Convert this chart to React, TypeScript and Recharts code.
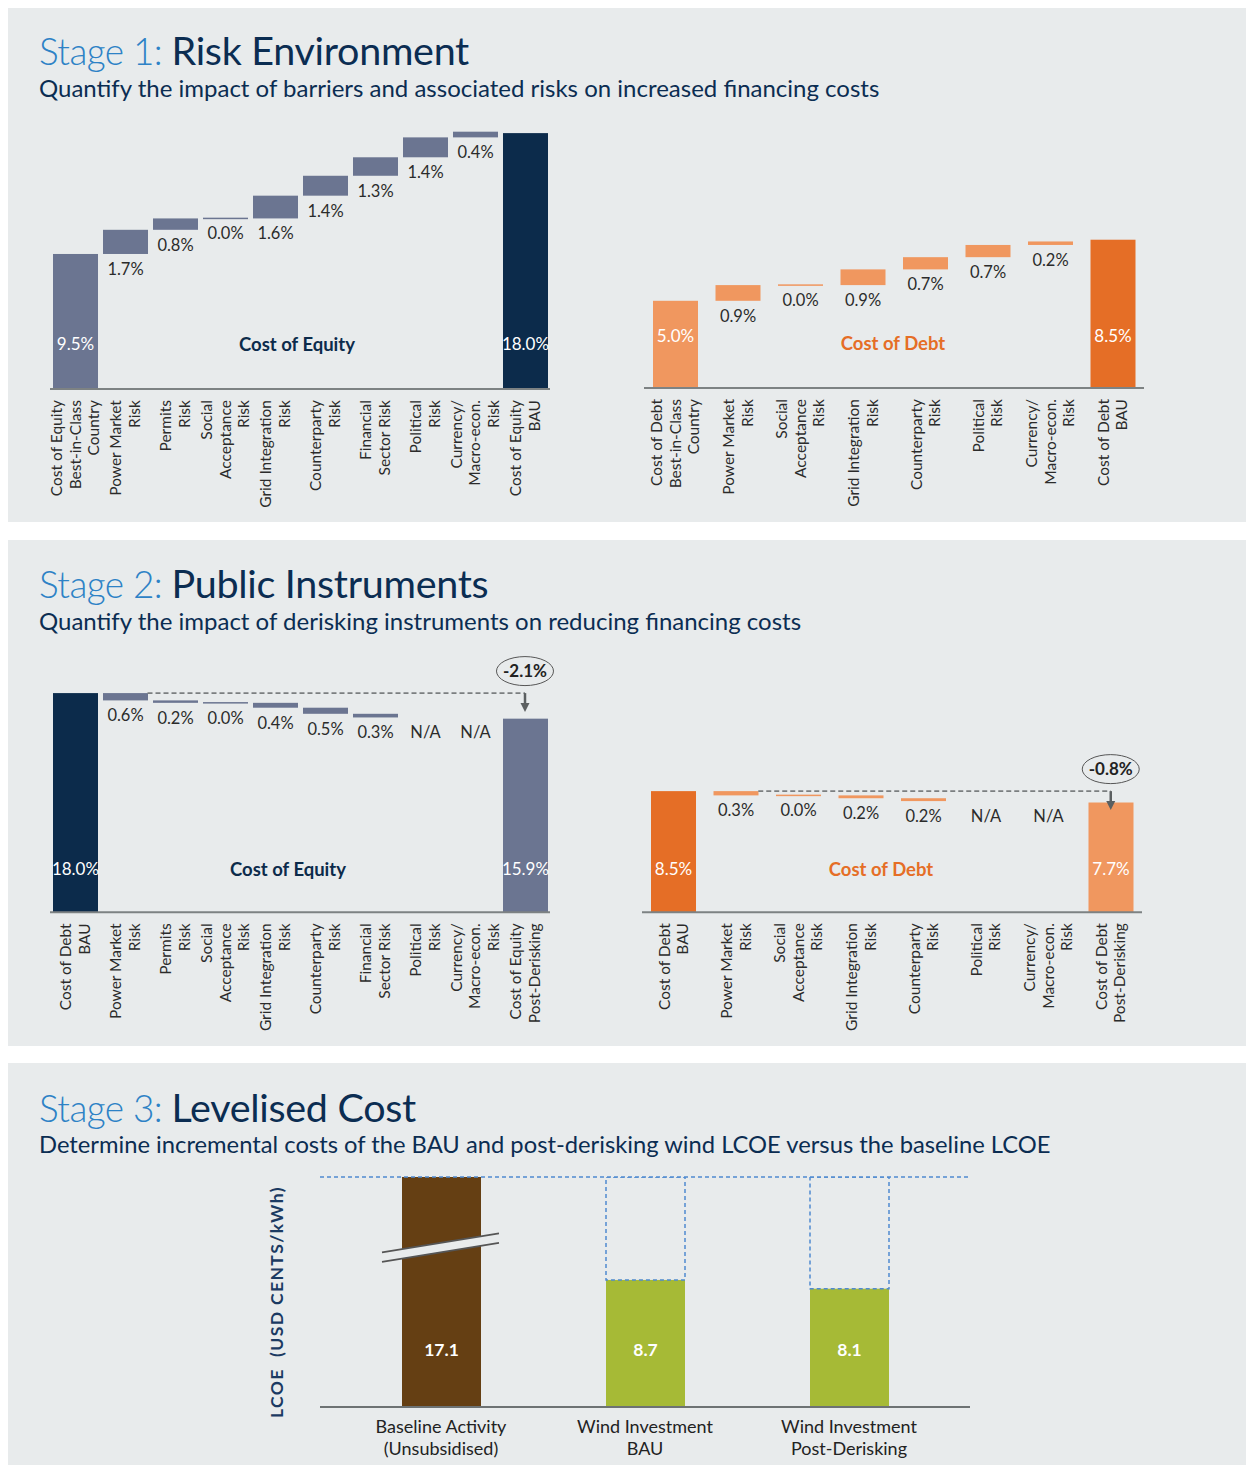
import React from "react";
import { BarChart, Bar, XAxis, YAxis, ReferenceLine } from "recharts";

const FONT = "Lato, 'Open Sans', sans-serif";
const OX = 0;
const OY = 0;

const SLATE = "#6b7591";
const NAVY = "#0c2b4b";
const ORANGE_L = "#f0975f";
const ORANGE_D = "#e56e26";
const BROWN = "#653f13";
const GREEN = "#a6ba36";
const PANEL = "#e8ebec";
const TEXT = "#2b2b2b";
const DASH_BLUE = "#4f8ad0";

// Stage 1: risk environment
const eq1Cats = [
  "Cost of Equity\nBest-in-Class\nCountry",
  "Power Market\nRisk",
  "Permits\nRisk",
  "Social\nAcceptance\nRisk",
  "Grid Integration\nRisk",
  "Counterparty\nRisk",
  "Financial\nSector Risk",
  "Political\nRisk",
  "Currency/\nMacro-econ.\nRisk",
  "Cost of Equity\nBAU",
];
const eq1Values = [9.5, 1.7, 0.8, 0.0, 1.6, 1.4, 1.3, 1.4, 0.4, 18.0];

const debt1Cats = [
  "Cost of Debt\nBest-in-Class\nCountry",
  "Power Market\nRisk",
  "Social\nAcceptance\nRisk",
  "Grid Integration\nRisk",
  "Counterparty\nRisk",
  "Political\nRisk",
  "Currency/\nMacro-econ.\nRisk",
  "Cost of Debt\nBAU",
];
const debt1Values = [5.0, 0.9, 0.0, 0.9, 0.7, 0.7, 0.2, 8.5];

// Stage 2: public instruments
const eq2Cats = [
  "Cost of Debt\nBAU",
  "Power Market\nRisk",
  "Permits\nRisk",
  "Social\nAcceptance\nRisk",
  "Grid Integration\nRisk",
  "Counterparty\nRisk",
  "Financial\nSector Risk",
  "Political\nRisk",
  "Currency/\nMacro-econ.\nRisk",
  "Cost of Equity\nPost-Derisking",
];
const eq2Values = [18.0, 0.6, 0.2, 0.0, 0.4, 0.5, 0.3, null, null, 15.9];

const debt2Cats = [
  "Cost of Debt\nBAU",
  "Power Market\nRisk",
  "Social\nAcceptance\nRisk",
  "Grid Integration\nRisk",
  "Counterparty\nRisk",
  "Political\nRisk",
  "Currency/\nMacro-econ.\nRisk",
  "Cost of Debt\nPost-Derisking",
];
const debt2Values = [8.5, 0.3, 0.0, 0.2, 0.2, null, null, 7.7];

// Stage 3: levelised cost
const lcoeCats = [
  "Baseline Activity\n(Unsubsidised)",
  "Wind Investment\nBAU",
  "Wind Investment\nPost-Derisking",
];
const lcoeValues = [17.1, 8.7, 8.1];
const lcoeColors = [BROWN, GREEN, GREEN];
const lcoeBreakAt = 11.85;

type Row = {
  name: string;
  base: number;
  val: number | null;
  total: boolean;
  na: boolean;
  color: string;
};

function buildWaterfall(
  cats: string[],
  values: (number | null)[],
  dir: number,
  colors: string[]
): Row[] {
  let run = 0;
  const last = cats.length - 1;
  return cats.map((name, i) => {
    const v = values[i];
    if (i === 0 || i === last) {
      if (i === 0) run = v as number;
      return { name, base: 0, val: v, total: true, na: false, color: i === 0 ? colors[0] : colors[2] };
    }
    if (v == null) return { name, base: run, val: null, total: false, na: true, color: colors[1] };
    if (dir > 0) {
      const b = run;
      run += v;
      return { name, base: b, val: v, total: false, na: false, color: colors[1] };
    }
    run -= v;
    return { name, base: run, val: v, total: false, na: false, color: colors[1] };
  });
}

function RotTick(props: any) {
  const { x, y, payload } = props;
  const lines = String(payload.value).split("\n");
  const n = lines.length;
  const gap = 18.5;
  return (
    <g transform={`translate(${x},${y + 11})`}>
      <text transform="rotate(-90)" textAnchor="end" fontFamily={FONT} fontSize={15.5} fill={TEXT}>
        {lines.map((l, i) => (
          <tspan key={i} x={0} y={(i - (n - 1) / 2) * gap + 5.5}>
            {l}
          </tspan>
        ))}
      </text>
    </g>
  );
}

const baseShape = (p: any) => {
  const d = p.payload as Row;
  if (d.total) return <g />;
  const txt = d.na ? "N/A" : `${(d.val as number).toFixed(1)}%`;
  return (
    <text
      x={p.x + p.width / 2}
      y={p.y + 15 + 6}
      textAnchor="middle"
      fontFamily={FONT}
      fontSize={16.5}
      fill={TEXT}
    >
      {txt}
    </text>
  );
};

const valShape = (offset: number) => (p: any) => {
  const d = p.payload as Row;
  if (d.na || d.val == null) return <g />;
  const h = p.height < 1.5 ? 1.5 : p.height;
  const y = p.height < 1.5 ? p.y - 0.75 : p.y;
  return (
    <g>
      <rect x={p.x} y={y} width={p.width} height={h} fill={d.color} />
      {d.total && (
        <text
          x={p.x + p.width / 2}
          y={p.y + p.height - offset + 6}
          textAnchor="middle"
          fontFamily={FONT}
          fontSize={17}
          fill="#ffffff"
        >
          {`${d.val.toFixed(1)}%`}
        </text>
      )}
    </g>
  );
};

const annotShape = (label: string) => (p: any) => {
  const { x1, y1, x2 } = p;
  const half = 22.5;
  return (
    <g>
      <line x1={x1 + half} y1={y1} x2={x2} y2={y1} stroke="#7b7f80" strokeWidth={1.8} strokeDasharray="5 3" />
      <line x1={x2} y1={y1} x2={x2} y2={y1 + 11} stroke="#5b5f60" strokeWidth={2.5} />
      <polygon points={`${x2 - 4.5},${y1 + 10} ${x2 + 4.5},${y1 + 10} ${x2},${y1 + 19}`} fill="#5b5f60" />
      <ellipse cx={x2} cy={y1 - 22} rx={28.5} ry={14.5} fill="none" stroke="#555" strokeWidth={1} />
      <text x={x2} y={y1 - 22 + 6} textAnchor="middle" fontFamily={FONT} fontWeight={700} fontSize={17} fill="#222">
        {label}
      </text>
    </g>
  );
};

type WFProps = {
  cats: string[];
  values: (number | null)[];
  dir: number;
  colors: string[];
  plotLeft: number;
  plotW: number;
  baseline: number;
  ppu: number;
  domainMax: number;
  title: string;
  titleColor: string;
  titleX: number;
  titleY: number;
  totalOffset: number;
  change?: string;
};

function Waterfall(p: WFProps) {
  const rows = buildWaterfall(p.cats, p.values, p.dir, p.colors);
  const plotH = p.domainMax * p.ppu;
  const plotTop = p.baseline - plotH;
  const mTop = 60;
  const mSide = 20;
  const axisH = 125;
  const width = p.plotW + 2 * mSide;
  const height = mTop + plotH + axisH;
  const start = p.values[0] as number;
  return (
    <>
      <div style={{ position: "absolute", left: p.plotLeft - mSide - OX, top: plotTop - mTop - OY }}>
        <BarChart
          width={width}
          height={height}
          data={rows}
          margin={{ top: mTop, right: mSide, bottom: 0, left: mSide }}
          barSize={45}
        >
          <XAxis
            dataKey="name"
            interval={0}
            height={axisH}
            tickLine={false}
            tickSize={0}
            tickMargin={0}
            axisLine={{ stroke: "#7d8283", strokeWidth: 2 }}
            tick={(tp: any) => <RotTick {...tp} />}
          />
          <YAxis hide domain={[0, p.domainMax]} />
          <Bar dataKey="base" stackId="w" isAnimationActive={false} shape={baseShape} />
          <Bar dataKey="val" stackId="w" isAnimationActive={false} shape={valShape(p.totalOffset)} />
          {p.change && (
            <ReferenceLine
              segment={[
                { x: p.cats[1], y: start },
                { x: p.cats[p.cats.length - 1], y: start },
              ]}
              shape={annotShape(p.change)}
            />
          )}
        </BarChart>
      </div>
      <div
        style={{
          position: "absolute",
          left: p.titleX - OX,
          top: p.titleY - OY,
          transform: "translate(-50%, -50%)",
          fontFamily: FONT,
          fontWeight: 700,
          fontSize: 18.5,
          lineHeight: 1,
          color: p.titleColor,
          whiteSpace: "nowrap",
        }}
      >
        {p.title}
      </div>
    </>
  );
}

function Heading(props: { top: number; stage: string; title: string; sub: string; subSize?: number }) {
  const { top, stage, title, sub, subSize = 24 } = props;
  return (
    <>
      <div
        style={{
          position: "absolute",
          left: 39 - OX,
          top: top - OY,
          fontFamily: FONT,
          lineHeight: 1,
          whiteSpace: "nowrap",
        }}
      >
        <span style={{ color: "#2d82c6", fontWeight: 300, fontSize: 37, letterSpacing: -0.6 }}>{stage}</span>
        <span style={{ color: "#0b2d52", fontWeight: 400, fontSize: 39.5, letterSpacing: -0.3 }}>{title}</span>
      </div>
      <div
        style={{
          position: "absolute",
          left: 39 - OX,
          top: top + 46 - OY,
          fontFamily: FONT,
          fontSize: subSize,
          lineHeight: 1,
          color: "#0b2d52",
          whiteSpace: "nowrap",
        }}
      >
        {sub}
      </div>
    </>
  );
}

function LcoeTick(props: any) {
  const { x, y, payload } = props;
  const lines = String(payload.value).split("\n");
  return (
    <text textAnchor="middle" fontFamily={FONT} fontSize={18} fill="#222">
      {lines.map((l, i) => (
        <tspan key={i} x={x} y={y + 26 + i * 22}>
          {l}
        </tspan>
      ))}
    </text>
  );
}

const lcoeShape = (p: any) => {
  const d = p.payload;
  const base = p.y + p.height;
  const ppu = p.height / d.value;
  const cy = base - lcoeBreakAt * ppu;
  const l = p.x - 20;
  const r = p.x + p.width + 18;
  return (
    <g>
      <rect x={p.x} y={p.y} width={p.width} height={p.height} fill={d.color} />
      {d.broken && (
        <g>
          <polygon
            points={`${l},${cy + 4.75} ${r},${cy - 14.25} ${r},${cy - 4.75} ${l},${cy + 14.25}`}
            fill={PANEL}
          />
          <line x1={l} y1={cy + 4.75} x2={r} y2={cy - 14.25} stroke="#555" strokeWidth={1.6} />
          <line x1={l} y1={cy + 14.25} x2={r} y2={cy - 4.75} stroke="#555" strokeWidth={1.6} />
        </g>
      )}
      <text
        x={p.x + p.width / 2}
        y={base - 57 + 6}
        textAnchor="middle"
        fontFamily={FONT}
        fontWeight={700}
        fontSize={17.5}
        fill="#ffffff"
      >
        {d.value.toFixed(1)}
      </text>
    </g>
  );
};

const gapShape = (p: any) => {
  if (!p.height || p.height <= 0) return <g />;
  return (
    <rect
      x={p.x}
      y={p.y}
      width={p.width}
      height={p.height}
      fill="none"
      stroke={DASH_BLUE}
      strokeWidth={1.5}
      strokeDasharray="4 3"
    />
  );
};

function LcoeChart() {
  const rows = lcoeCats.map((name, i) => ({
    name,
    value: lcoeValues[i],
    gap: i === 0 ? 0 : lcoeValues[0] - lcoeValues[i],
    color: lcoeColors[i],
    broken: i === 0,
  }));
  const plotLeft = 320;
  const plotW = 650;
  const baseline = 1407;
  const plotTop = 1177;
  const domainMax = 15.75;
  const mTop = 20;
  const axisH = 55;
  return (
    <div style={{ position: "absolute", left: plotLeft - 20 - OX, top: plotTop - mTop - OY }}>
      <BarChart
        width={plotW + 40}
        height={mTop + (baseline - plotTop) + axisH}
        data={rows}
        margin={{ top: mTop, right: 20, bottom: 0, left: 20 }}
        barSize={79}
      >
        <XAxis
          dataKey="name"
          interval={0}
          height={axisH}
          padding={{ left: 19, right: 19 }}
          tickLine={false}
          tickSize={0}
          tickMargin={0}
          axisLine={{ stroke: "#6d7273", strokeWidth: 2 }}
          tick={(tp: any) => <LcoeTick {...tp} />}
        />
        <YAxis hide domain={[0, domainMax]} allowDataOverflow />
        <ReferenceLine y={domainMax} stroke={DASH_BLUE} strokeWidth={1.5} strokeDasharray="4 3" />
        <Bar dataKey="value" stackId="l" isAnimationActive={false} shape={lcoeShape} />
        <Bar dataKey="gap" stackId="l" isAnimationActive={false} shape={gapShape} />
      </BarChart>
    </div>
  );
}

export default function App() {
  const panel = (top: number, height: number) => ({
    position: "absolute" as const,
    left: 8,
    top,
    width: 1238,
    height,
    background: PANEL,
  });
  return (
    <div
      style={{
        position: "fixed",
        left: 0,
        top: 0,
        width: 1246,
        height: 1465,
        background: "#ffffff",
        overflow: "hidden",
      }}
    >
      <div style={panel(8, 514)} />
      <div style={panel(540, 506)} />
      <div style={panel(1063, 402)} />

      <Heading
        top={30}
        stage="Stage 1: "
        title="Risk Environment"
        sub="Quantify the impact of barriers and associated risks on increased financing costs"
      />
      <Heading
        top={563}
        stage="Stage 2: "
        title="Public Instruments"
        sub="Quantify the impact of derisking instruments on reducing financing costs"
      />
      <Heading
        top={1087}
        stage="Stage 3: "
        title="Levelised Cost"
        sub="Determine incremental costs of the BAU and post-derisking wind LCOE versus the baseline LCOE"
        subSize={23.75}
      />

      <Waterfall
        cats={eq1Cats}
        values={eq1Values}
        dir={1}
        colors={[SLATE, SLATE, NAVY]}
        plotLeft={50}
        plotW={500}
        baseline={389}
        ppu={14.22}
        domainMax={18.5}
        title="Cost of Equity"
        titleColor={NAVY}
        titleX={297}
        titleY={344}
        totalOffset={45}
      />
      <Waterfall
        cats={debt1Cats}
        values={debt1Values}
        dir={1}
        colors={[ORANGE_L, ORANGE_L, ORANGE_D]}
        plotLeft={644}
        plotW={500}
        baseline={388}
        ppu={17.45}
        domainMax={9}
        title="Cost of Debt"
        titleColor={ORANGE_D}
        titleX={893}
        titleY={343}
        totalOffset={52}
      />
      <Waterfall
        cats={eq2Cats}
        values={eq2Values}
        dir={-1}
        colors={[NAVY, SLATE, SLATE]}
        plotLeft={50}
        plotW={500}
        baseline={912}
        ppu={12.18}
        domainMax={18.5}
        title="Cost of Equity"
        titleColor={NAVY}
        titleX={288}
        titleY={869}
        totalOffset={43}
        change="-2.1%"
      />
      <Waterfall
        cats={debt2Cats}
        values={debt2Values}
        dir={-1}
        colors={[ORANGE_D, ORANGE_L, ORANGE_L]}
        plotLeft={642}
        plotW={500}
        baseline={912}
        ppu={14.24}
        domainMax={9}
        title="Cost of Debt"
        titleColor={ORANGE_D}
        titleX={881}
        titleY={869}
        totalOffset={43}
        change="-0.8%"
      />

      <LcoeChart />
      <div
        style={{
          position: "absolute",
          left: 277 - OX,
          top: 1302 - OY,
          transform: "translate(-50%, -50%) rotate(180deg)",
          writingMode: "vertical-rl",
          fontFamily: FONT,
          fontWeight: 700,
          fontSize: 17.5,
          letterSpacing: 1.4,
          lineHeight: 1,
          color: "#1b3a62",
          whiteSpace: "pre",
        }}
      >
        {"LCOE  (USD CENTS/kWh)"}
      </div>
    </div>
  );
}
